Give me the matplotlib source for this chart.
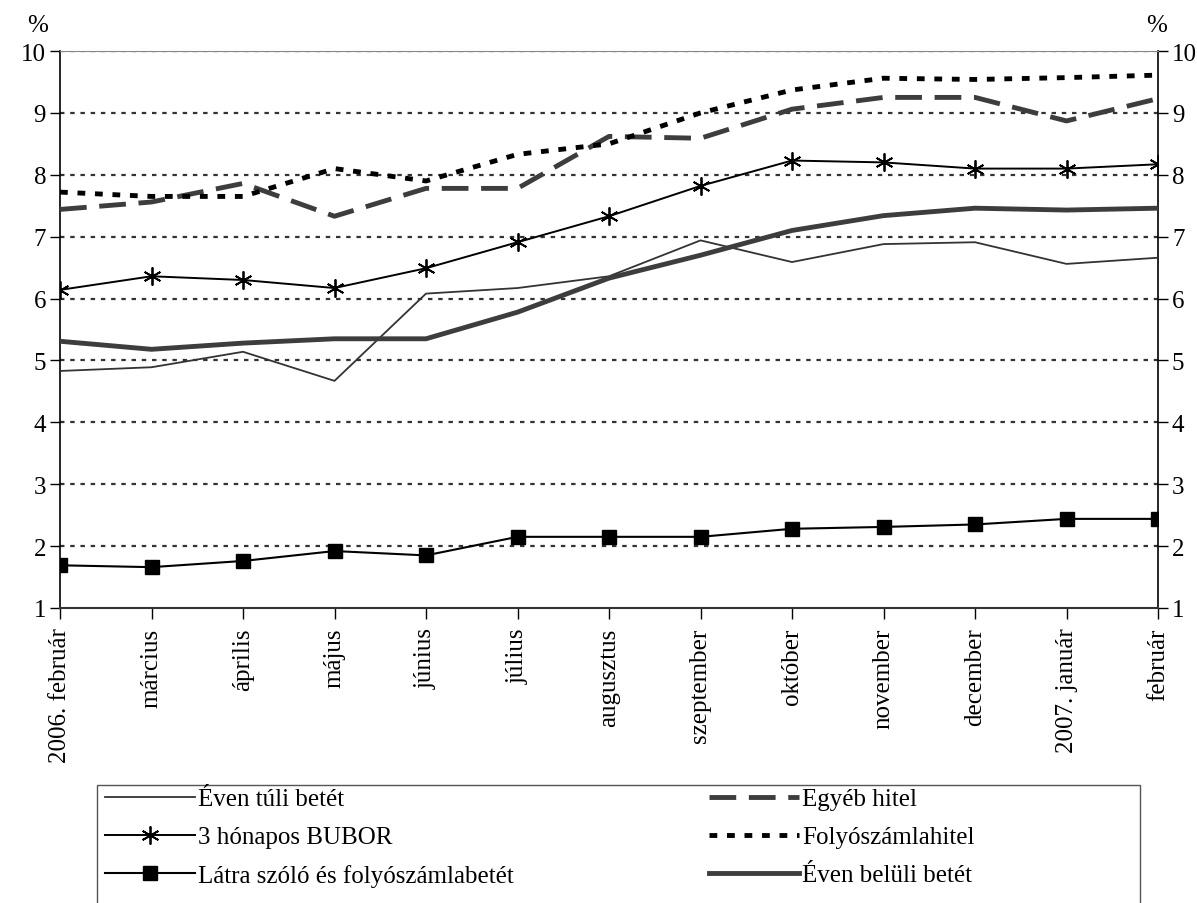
import matplotlib
matplotlib.use("Agg")
import matplotlib.pyplot as plt
from matplotlib.patches import Rectangle
import numpy as np

plt.rcParams['font.family'] = ['Liberation Serif', 'DejaVu Serif']

months = ["2006. február", "március", "április", "május", "június", "július",
          "augusztus", "szeptember", "október", "november", "december",
          "2007. január", "február"]

even_tuli = [4.83, 4.89, 5.14, 4.67, 6.08, 6.17, 6.36, 6.94, 6.59, 6.88, 6.91, 6.56, 6.66]
bubor = [6.14, 6.36, 6.30, 6.17, 6.49, 6.91, 7.33, 7.82, 8.23, 8.20, 8.10, 8.10, 8.17]
latra = [1.69, 1.66, 1.76, 1.92, 1.85, 2.15, 2.15, 2.15, 2.28, 2.31, 2.35, 2.44, 2.44]
egyeb_hitel = [7.44, 7.56, 7.86, 7.33, 7.78, 7.78, 8.62, 8.59, 9.06, 9.25, 9.25, 8.87, 9.23]
folyoszamlahitel = [7.72, 7.65, 7.65, 8.10, 7.90, 8.33, 8.50, 9.00, 9.37, 9.56, 9.54, 9.57, 9.61]
even_beluli = [5.31, 5.18, 5.28, 5.35, 5.35, 5.78, 6.33, 6.70, 7.10, 7.34, 7.46, 7.43, 7.46]

W, H = 1197, 904
fig = plt.figure(figsize=(W / 100, H / 100), dpi=100)
ax = fig.add_axes([60 / W, 1 - 609 / H, (1158 - 60) / W, (609 - 52) / H])

x = np.arange(len(months))
fs = 18

# grid
for v in range(2, 11):
    ax.axhline(v, color='#333333', lw=1.6, ls=(0, (2, 2.6)), zorder=1)

l1, = ax.plot(x, even_tuli, color='#333333', lw=1.3, zorder=3)
l2, = ax.plot(x, bubor, color='black', lw=1.4, marker=(6, 2, 0), ms=13,
              mew=1.3, zorder=4)
l3, = ax.plot(x, latra, color='black', lw=1.5, marker='s', ms=10, zorder=4)
l4, = ax.plot(x, egyeb_hitel, color='#3d3d3d', lw=3.5, ls=(0, (5.5, 2.6)), zorder=3)
l5, = ax.plot(x, folyoszamlahitel, color='black', lw=3.5, ls=(0, (1.6, 2.0)), zorder=3)
l6, = ax.plot(x, even_beluli, color='#3d3d3d', lw=3.5, zorder=3)

ax.set_xlim(0, len(months) - 1)
ax.set_ylim(1, 10)
ax.set_yticks(range(1, 11))
ax.set_xticks(x)
ax.set_xticklabels(months, rotation=90, fontsize=fs)
ax.tick_params(axis='y', labelsize=fs, direction='out', length=7, width=1,
               left=True, right=True, labelleft=True, labelright=True, pad=3)
ax.tick_params(axis='x', direction='out', length=8, width=1, pad=6)

ax.spines['top'].set_color('#888888')
ax.spines['bottom'].set_color('#333333')
ax.spines['bottom'].set_linewidth(1.5)
for s in ['left', 'right']:
    ax.spines[s].set_color('black')
    ax.spines[s].set_linewidth(1.2)

fig.text(38 / W, 1 - 26 / H, '%', fontsize=fs, ha='center', va='center')
fig.text(1157 / W, 1 - 26 / H, '%', fontsize=fs, ha='center', va='center')

# legend box
fig.patches.append(Rectangle((97 / W, -0.05), (1140 - 97) / W, 0.05 + 1 - 786 / H,
                             transform=fig.transFigure, fill=False,
                             edgecolor='#555555', lw=1.0))

handles = [l1, l2, l3, l4, l5, l6]
labels = ["Éven túli betét", "3 hónapos BUBOR", "Látra szóló és folyószámlabetét",
          "Egyéb hitel", "Folyószámlahitel", "Éven belüli betét"]
leg = fig.legend(handles, labels, ncol=2, loc='upper left',
                 bbox_to_anchor=(100 / W, 1 - 784 / H),
                 fontsize=fs, frameon=False,
                 handlelength=3.6, handletextpad=0.12, borderaxespad=0,
                 labelspacing=0.62, borderpad=0.2, columnspacing=7.8)

fig.savefig('out.png', dpi=100)
